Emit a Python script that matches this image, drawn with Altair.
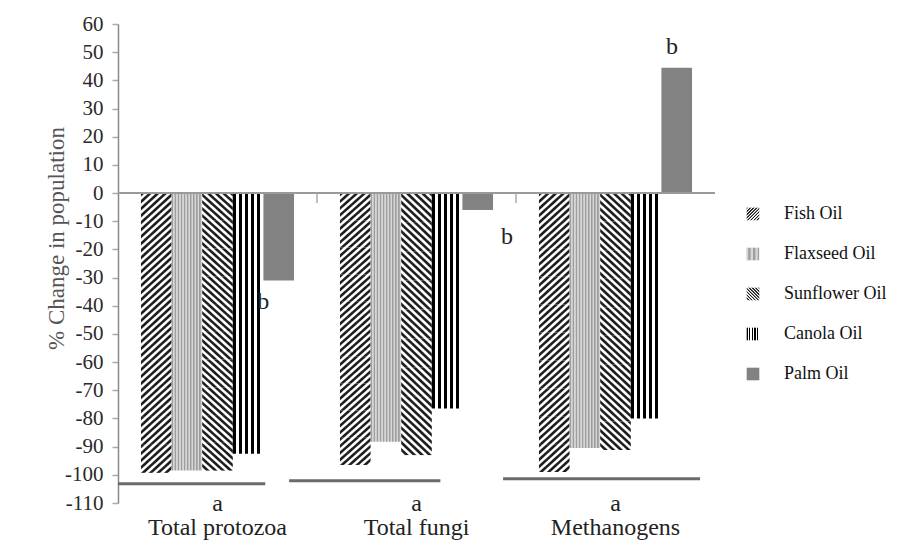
import altair as alt
import pandas as pd

# ---- data ----
groups = ["Total protozoa", "Total fungi", "Methanogens"]
oils = ["Fish Oil", "Flaxseed Oil", "Sunflower Oil", "Canola Oil", "Palm Oil"]
fish = [-99.3, -96.5, -99.0]
flaxseed = [-98.5, -88.3, -90.5]
sunflower = [-98.5, -93.0, -91.2]
canola = [-92.5, -76.5, -80.0]
palm = [-31.0, -6.0, 44.5]
group_letter = ["a", "a", "a"]
palm_letter = ["b", "b", "b"]
palm_letter_x = [0.73, 1.955, 2.784]      # position along the group axis (0..3)
palm_letter_y = [-38.5, -15.6, 51.8]
base_line_start = [0.0, 0.86, 1.935]
base_line_end = [0.74, 1.62, 2.925]
base_line_y = [-103.2, -102.1, -101.4]
y_ticks = list(range(-110, 61, 10))

series = {"Fish Oil": fish, "Flaxseed Oil": flaxseed, "Sunflower Oil": sunflower,
          "Canola Oil": canola, "Palm Oil": palm}
bars = pd.DataFrame([{"group": g, "oil": o, "value": v[i]}
                     for o, v in series.items() for i, g in enumerate(groups)])
letters = pd.DataFrame({"x": palm_letter_x, "y": palm_letter_y, "t": palm_letter})
lines = pd.DataFrame({"x": base_line_start, "x2": base_line_end, "y": base_line_y})
bounds = pd.DataFrame({"group": groups[1:]})

SERIF = "Liberation Serif"


def stripes(x1, y1, x2, y2, n, c1, c2, soft=True, frac=0.5):
    stops = []
    for i in range(n):
        b = i / n
        if soft:
            pts = [(0.1, c1), (0.4, c1), (0.6, c2), (0.9, c2)]
        else:
            pts = [(0.0, c1), (frac, c1), (frac, c2), (1.0, c2)]
        for o, c in pts:
            stops.append("{offset: %.4f, color: '%s'}" % (b + o / n, c))
    return alt.ExprRef(
        "{gradient: 'linear', x1: %s, y1: %s, x2: %s, y2: %s, stops: [%s]}"
        % (x1, y1, x2, y2, ", ".join(stops)))


fills = [
    stripes(0, 0, 1, 1, 8, "#1e1e1e", "#ffffff"),            # Fish  ////
    stripes(0, 0, 1, 0, 10, "#9e9e9e", "#d6d6d6"),           # Flaxseed texture
    stripes(1, 0, 0, 1, 8, "#1e1e1e", "#ffffff"),            # Sunflower \\\\
    stripes(0, 0, 1, 0, 5, "#000000", "#ffffff", soft=False, frac=0.5),  # Canola |||
    "#828282",                                                # Palm
]

letter_map = ", ".join("'%s': '%s'" % (g, l) for g, l in zip(groups, group_letter))
label_expr = "[{%s}[datum.label], datum.label]" % letter_map

x_band = alt.Scale(domain=groups, paddingInner=0, paddingOuter=0)
y_scale = alt.Scale(domain=[-110, 60], nice=False, zero=False)

x_axis = alt.Axis(labelExpr=label_expr, labelAngle=0, domain=False, ticks=False,
                  labelFont=SERIF, labelFontSize=24, labelColor="#222222",
                  labelLineHeight=24, labelPadding=-12, title=None)
y_axis = alt.Axis(values=y_ticks, tickCount=18, title="% Change in population", grid=False,
                  labelExpr="toString(datum.value)", labelOverlap=False,
                  labelFont=SERIF, labelFontSize=21, labelColor="#2a2a2a",
                  tickColor="#aaaaaa", tickSize=6, tickWidth=1.5,
                  domainColor="#8a8a8a", domainWidth=1.5, labelPadding=9,
                  titleFont=SERIF, titleFontSize=23, titleFontWeight="normal",
                  titleColor="#555555", titleX=-50, titleY=214, titleAngle=270)

bar_layer = alt.Chart(bars).transform_calculate(
    n="(datum.oil == 'Fish Oil' || datum.oil == 'Sunflower Oil') ? max(1, round(abs(datum.value) / 10)) : 1"
).transform_calculate(
    k="sequence(0, datum.n)"
).transform_flatten(["k"]).transform_calculate(
    lo="datum.value * datum.k / datum.n",
    hi="datum.value * (datum.k + 1) / datum.n",
).mark_bar().encode(
    x=alt.X("group:N", sort=groups, scale=x_band, axis=x_axis),
    xOffset=alt.XOffset("oil:N", sort=oils,
                        scale=alt.Scale(domain=oils, paddingOuter=0.75, paddingInner=0)),
    y=alt.Y("lo:Q", scale=y_scale, axis=y_axis),
    y2="hi:Q",
    fill=alt.Fill("oil:N", sort=oils, scale=alt.Scale(domain=oils, range=fills),
                  legend=alt.Legend(title=None, orient="none", legendX=626, legendY=181,
                                    symbolType="square", symbolSize=160,
                                    symbolStrokeWidth=0, labelFont=SERIF,
                                    labelFontSize=18, labelColor="#111111",
                                    labelOffset=22, rowPadding=22, padding=0)),
)

zero_rule = alt.Chart(bars).mark_rule(color="#9a9a9a", strokeWidth=2).encode(
    y=alt.Y(datum=0, scale=y_scale, axis=y_axis)
)

bound_ticks = alt.Chart(bounds).mark_rule(color="#aaaaaa", strokeWidth=1.5).encode(
    x=alt.X("group:N", sort=groups, scale=x_band, bandPosition=0, axis=x_axis),
    y=alt.Y(datum=0, scale=y_scale, axis=y_axis),
    y2=alt.datum(-3.5),
)

xq = alt.Scale(domain=[0, 3], nice=False, zero=False)

base_lines = alt.Chart(lines).mark_rule(color="#6a6a6a", strokeWidth=3).encode(
    x=alt.X("x:Q", scale=xq, axis=None),
    x2="x2:Q",
    y=alt.Y("y:Q", scale=y_scale, axis=y_axis),
)

letter_text = alt.Chart(letters).mark_text(font=SERIF, fontSize=24, color="#222222").encode(
    x=alt.X("x:Q", scale=xq, axis=None),
    y=alt.Y("y:Q", scale=y_scale, axis=y_axis),
    text="t:N",
)

chart = alt.layer(
    alt.layer(bar_layer, zero_rule, bound_ticks),
    alt.layer(base_lines, letter_text),
).resolve_scale(x="independent").properties(
    width=597, height=479,
    autosize=alt.AutoSizeParams(type="none"),
    padding={"left": 110, "top": 16, "right": 180, "bottom": 40},
).configure_view(stroke=None).configure_axis(grid=False)

chart.save("out.html", embed_options={"renderer": "svg", "actions": False})
